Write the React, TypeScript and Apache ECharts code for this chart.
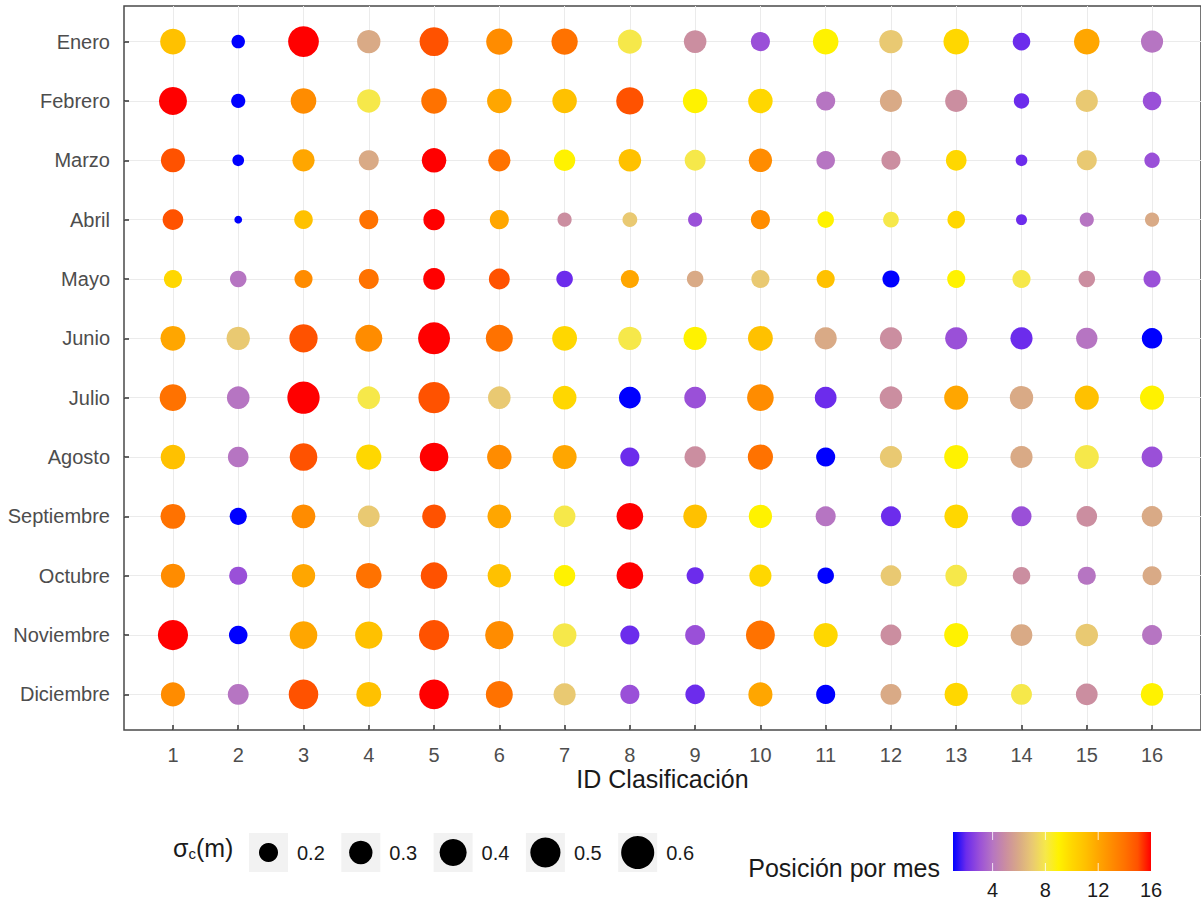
import React, { useEffect, useRef } from "react";
import * as echarts from "echarts";

// Months (rows) and classification IDs (columns)
const months = [
  "Enero", "Febrero", "Marzo", "Abril", "Mayo", "Junio",
  "Julio", "Agosto", "Septiembre", "Octubre", "Noviembre", "Diciembre",
];
const classIds = [1, 2, 3, 4, 5, 6, 7, 8, 9, 10, 11, 12, 13, 14, 15, 16];

// Monthly position (1..16) of each classification
const rankEnero = [11, 1, 16, 6, 15, 13, 14, 8, 5, 3, 9, 7, 10, 2, 12, 4];
const rankFebrero = [16, 1, 13, 8, 14, 12, 11, 15, 9, 10, 4, 6, 5, 2, 7, 3];
const rankMarzo = [15, 1, 12, 6, 16, 14, 9, 11, 8, 13, 4, 5, 10, 2, 7, 3];
const rankAbril = [15, 1, 11, 14, 16, 12, 5, 7, 3, 13, 9, 8, 10, 2, 4, 6];
const rankMayo = [10, 4, 13, 14, 16, 15, 2, 12, 6, 7, 11, 1, 9, 8, 5, 3];
const rankJunio = [12, 7, 15, 13, 16, 14, 10, 8, 9, 11, 6, 5, 3, 2, 4, 1];
const rankJulio = [14, 4, 16, 8, 15, 7, 10, 1, 3, 13, 2, 5, 12, 6, 11, 9];
const rankAgosto = [11, 4, 15, 10, 16, 13, 12, 2, 5, 14, 1, 7, 9, 6, 8, 3];
const rankSeptiembre = [14, 1, 13, 7, 15, 12, 8, 16, 11, 9, 4, 2, 10, 3, 5, 6];
const rankOctubre = [13, 3, 12, 14, 15, 11, 9, 16, 2, 10, 1, 7, 8, 5, 4, 6];
const rankNoviembre = [16, 1, 12, 11, 15, 13, 8, 2, 3, 14, 10, 5, 9, 6, 7, 4];
const rankDiciembre = [13, 4, 15, 11, 16, 14, 7, 3, 2, 12, 1, 6, 10, 8, 5, 9];

// sigma_c (m) of each classification per month
const sigmaEnero = [0.36, 0.1, 0.52, 0.3, 0.46, 0.38, 0.38, 0.32, 0.28, 0.2, 0.36, 0.3, 0.36, 0.17, 0.36, 0.27];
const sigmaFebrero = [0.43, 0.11, 0.36, 0.3, 0.36, 0.33, 0.33, 0.41, 0.33, 0.33, 0.2, 0.27, 0.27, 0.13, 0.27, 0.19];
const sigmaMarzo = [0.32, 0.075, 0.27, 0.22, 0.33, 0.27, 0.25, 0.28, 0.24, 0.3, 0.19, 0.2, 0.235, 0.075, 0.22, 0.13];
const sigmaAbril = [0.235, 0.033, 0.19, 0.2, 0.25, 0.2, 0.11, 0.12, 0.11, 0.2, 0.15, 0.135, 0.17, 0.066, 0.11, 0.11];
const sigmaMayo = [0.18, 0.15, 0.18, 0.22, 0.26, 0.24, 0.15, 0.18, 0.15, 0.18, 0.18, 0.16, 0.18, 0.18, 0.15, 0.16];
const sigmaJunio = [0.34, 0.3, 0.44, 0.4, 0.56, 0.4, 0.34, 0.3, 0.3, 0.34, 0.27, 0.27, 0.27, 0.27, 0.25, 0.23];
const sigmaJulio = [0.39, 0.28, 0.57, 0.28, 0.54, 0.28, 0.31, 0.26, 0.26, 0.39, 0.26, 0.28, 0.32, 0.3, 0.32, 0.32];
const sigmaAgosto = [0.33, 0.235, 0.42, 0.35, 0.45, 0.33, 0.32, 0.2, 0.25, 0.35, 0.2, 0.27, 0.32, 0.27, 0.32, 0.24];
const sigmaSeptiembre = [0.34, 0.16, 0.31, 0.26, 0.31, 0.31, 0.26, 0.39, 0.31, 0.3, 0.22, 0.22, 0.31, 0.22, 0.235, 0.235];
const sigmaOctubre = [0.32, 0.18, 0.3, 0.36, 0.39, 0.3, 0.25, 0.39, 0.16, 0.27, 0.15, 0.235, 0.26, 0.17, 0.18, 0.2];
const sigmaNoviembre = [0.5, 0.19, 0.42, 0.41, 0.5, 0.44, 0.31, 0.2, 0.22, 0.46, 0.32, 0.24, 0.32, 0.26, 0.28, 0.22];
const sigmaDiciembre = [0.32, 0.24, 0.48, 0.34, 0.48, 0.4, 0.27, 0.2, 0.21, 0.32, 0.2, 0.24, 0.3, 0.24, 0.26, 0.28];

const rankRows = [
  rankEnero, rankFebrero, rankMarzo, rankAbril, rankMayo, rankJunio,
  rankJulio, rankAgosto, rankSeptiembre, rankOctubre, rankNoviembre, rankDiciembre,
];
const sigmaRows = [
  sigmaEnero, sigmaFebrero, sigmaMarzo, sigmaAbril, sigmaMayo, sigmaJunio,
  sigmaJulio, sigmaAgosto, sigmaSeptiembre, sigmaOctubre, sigmaNoviembre, sigmaDiciembre,
];

// Legend breaks
const sizeBreaks = [0.2, 0.3, 0.4, 0.5, 0.6];
const colorTicks = [4, 8, 12, 16];

// Colour ramp for positions 1..16
const palette = [
  "#0000ff", "#6c2cec", "#9a50d8", "#b675c2", "#cb8ea0", "#d9aa86",
  "#e9c972", "#f6e84a", "#fff200", "#ffd700", "#ffc100", "#ffa600",
  "#ff8c00", "#ff7200", "#ff5200", "#ff0000",
];

const FONT = "'Liberation Sans', Arial, Helvetica, sans-serif";

// Point area proportional to sigma_c
const diameter = (s: number) => 42.7 * Math.sqrt(s);

export default function App() {
  const ref = useRef<HTMLDivElement>(null);

  useEffect(() => {
    if (!ref.current) return;
    const chart = echarts.init(ref.current, null, { renderer: "svg" });

    const points: number[][] = [];
    months.forEach((_, i) => {
      classIds.forEach((id, j) => {
        points.push([id, i + 1, rankRows[i][j], sigmaRows[i][j]]);
      });
    });

    const monthIdx = months.map((_, i) => i + 1);

    // x-axis title
    const axisTitle: any[] = [
      {
        type: "text",
        x: 662.5,
        y: 779,
        style: {
          text: "ID Clasificación",
          fontSize: 25,
          fontFamily: FONT,
          fill: "#1a1a1a",
          align: "center",
          verticalAlign: "middle",
        },
      },
    ];

    // Size legend
    const sizeLegend: any[] = [
      {
        type: "text",
        left: 173,
        top: 835,
        style: {
          text: "{s|σ}{c|c}{s|(m)}",
          rich: {
            s: { fontSize: 25, fontFamily: FONT, fill: "#1a1a1a" },
            c: { fontSize: 15, fontFamily: FONT, fill: "#1a1a1a", padding: [12, 0, 0, 0] },
          },
        },
      },
    ];
    sizeBreaks.forEach((b, i) => {
      const x0 = 249 + i * 92.3;
      sizeLegend.push({
        type: "rect",
        shape: { x: x0, y: 833, width: 39, height: 39 },
        style: { fill: "#f2f2f2" },
      });
      sizeLegend.push({
        type: "circle",
        shape: { cx: x0 + 19.5, cy: 852.5, r: diameter(b) / 2 },
        style: { fill: "#000000" },
      });
      sizeLegend.push({
        type: "text",
        x: x0 + 48,
        y: 853,
        style: {
          text: b.toFixed(1),
          fontSize: 20,
          fontFamily: FONT,
          fill: "#1a1a1a",
          verticalAlign: "middle",
          align: "left",
        },
      });
    });

    // Colour bar legend
    const barX = 953;
    const barY = 832;
    const barW = 198;
    const barH = 39;
    const posX = (k: number) => barX + ((k - 1) / 15) * barW;
    const colorLegend: any[] = [
      {
        type: "text",
        x: 940,
        y: 868,
        style: {
          text: "Posición por mes",
          fontSize: 25,
          fontFamily: FONT,
          fill: "#1a1a1a",
          align: "right",
          verticalAlign: "middle",
        },
      },
      {
        type: "rect",
        shape: { x: barX, y: barY, width: barW, height: barH },
        style: {
          fill: new echarts.graphic.LinearGradient(
            0, 0, 1, 0,
            palette.map((c, i) => ({ offset: i / (palette.length - 1), color: c }))
          ),
        },
      },
    ];
    colorTicks.forEach((k) => {
      const x = posX(k);
      if (k < 16) {
        colorLegend.push({
          type: "line",
          shape: { x1: x, y1: barY, x2: x, y2: barY + 8 },
          style: { stroke: "#ffffff", lineWidth: 1, opacity: 0.8 },
        });
        colorLegend.push({
          type: "line",
          shape: { x1: x, y1: barY + barH - 8, x2: x, y2: barY + barH },
          style: { stroke: "#ffffff", lineWidth: 1, opacity: 0.8 },
        });
      }
      colorLegend.push({
        type: "text",
        x,
        y: 890,
        style: {
          text: String(k),
          fontSize: 20,
          fontFamily: FONT,
          fill: "#1a1a1a",
          align: "center",
          verticalAlign: "middle",
        },
      });
    });

    chart.setOption({
      animation: false,
      backgroundColor: "#ffffff",
      textStyle: { fontFamily: FONT },
      grid: {
        left: 124,
        top: 6,
        width: 1077,
        height: 724,
        show: true,
        borderColor: "#4a4a4a",
        borderWidth: 1.5,
        backgroundColor: "transparent",
      },
      xAxis: {
        type: "value",
        min: 0.25,
        max: 16.75,
        axisLine: { show: false },
        axisTick: {
          show: true,
          inside: true,
          length: 5,
          customValues: classIds,
          lineStyle: { color: "#333333", width: 1.5 },
        },
        axisLabel: {
          customValues: classIds,
          margin: 15,
          fontSize: 20,
          color: "#4d4d4d",
          fontFamily: FONT,
        },
        splitLine: { show: true, lineStyle: { color: "#ebebeb", width: 1 } },
      },
      yAxis: {
        type: "value",
        min: 0.4,
        max: 12.6,
        inverse: true,
        axisLine: { show: false },
        axisTick: {
          show: true,
          inside: true,
          length: 5,
          customValues: monthIdx,
          lineStyle: { color: "#333333", width: 1.5 },
        },
        axisLabel: {
          customValues: monthIdx,
          margin: 14,
          fontSize: 20,
          color: "#4d4d4d",
          fontFamily: FONT,
          formatter: (v: number) => months[Math.round(v) - 1] ?? "",
        },
        splitLine: { show: true, lineStyle: { color: "#ebebeb", width: 1 } },
      },
      visualMap: {
        show: false,
        type: "continuous",
        min: 1,
        max: 16,
        dimension: 2,
        seriesIndex: 0,
        inRange: { color: palette },
      },
      series: [
        {
          type: "scatter",
          data: points,
          symbol: "circle",
          symbolSize: (v: number[]) => diameter(v[3]),
          itemStyle: { opacity: 1 },
          emphasis: { disabled: true },
          z: 3,
        },
      ],
      graphic: [...axisTitle, ...sizeLegend, ...colorLegend],
    });

    return () => chart.dispose();
  }, []);

  return (
    <div
      ref={ref}
      style={{ position: "absolute", left: 0, top: 0, width: 1201, height: 901 }}
    />
  );
}
